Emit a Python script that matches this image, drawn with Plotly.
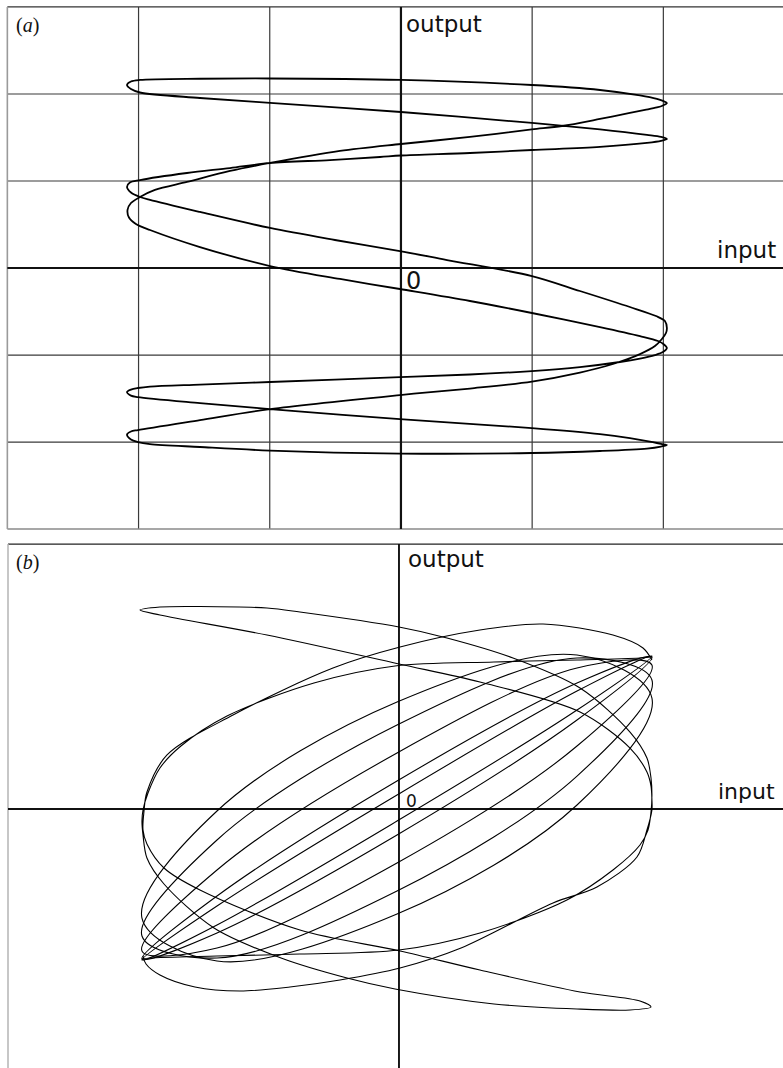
import plotly.graph_objects as go

# ---------------- Panel (a): one closed trace, in screen divisions ----------------
a_input = [
    -2.088, -2.058, -1.989, -1.532, -0.998, 0.000, 0.998, 1.517, 1.822, 1.951, 1.997, 2.027,
    1.997, 1.951, 1.860, 1.745, 1.517, 1.227, 0.998, 0.526, 0.000, -0.465, -0.998, -1.303, -1.631, -1.875, -1.989, -2.058, -2.084,
    -2.073, -2.020, -1.913, -1.532, -0.998, -0.465, -0.008, 0.526, 0.998, 1.517, 1.822, 1.959, 2.005, 2.027,
    1.997, 1.936, 1.822, 1.669, 1.364, 0.998, 0.526, -0.008, -0.998, -1.532, -1.913, -2.005, -2.058, -2.088,
    -2.058, -2.005, -1.532, -0.998, -0.008, 0.998, 1.517, 1.745, 1.898, 1.982, 2.027,
    1.982, 1.875, 1.517, 0.998, -0.008, -0.998, -1.532, -1.913, -2.005, -2.058, -2.088,
    -2.058, -2.005, -1.532, -0.998, -0.008, 0.526, 0.998, 1.364, 1.616, 1.822, 1.936, 1.989, 2.020, 2.027,
    2.012, 1.944, 1.745, 1.364, 0.998, 0.351, -0.008, -0.503, -0.998, -1.532, -1.913, -1.989, -2.058, -2.088,
    -2.066, -1.989, -1.631, -1.303, -0.998, -0.541, -0.160, 0.000, 0.526, 0.998, 1.517, 1.875, 1.982, 2.027,
    1.982, 1.875, 1.517, 0.998, 0.000, -0.998, -1.532, -1.989, -2.058, -2.088,
]
a_output = [
    2.103, 2.143, 2.161, 2.175, 2.178, 2.161, 2.103, 2.046, 1.983, 1.943, 1.920, 1.897,
    1.868, 1.845, 1.816, 1.782, 1.713, 1.632, 1.592, 1.506, 1.425, 1.345, 1.207, 1.115, 0.989, 0.897, 0.816, 0.747, 0.667,
    0.580, 0.506, 0.437, 0.241, 0.023, -0.126, -0.241, -0.379, -0.517, -0.678, -0.782, -0.839, -0.879, -0.920,
    -0.966, -1.000, -1.040, -1.080, -1.138, -1.184, -1.224, -1.253, -1.310, -1.339, -1.362, -1.379, -1.397, -1.425,
    -1.466, -1.483, -1.552, -1.621, -1.736, -1.839, -1.908, -1.954, -1.994, -2.021, -2.034,
    -2.052, -2.075, -2.103, -2.126, -2.132, -2.098, -2.057, -2.023, -2.000, -1.971, -1.914,
    -1.879, -1.862, -1.747, -1.621, -1.460, -1.385, -1.305, -1.201, -1.103, -0.989, -0.897, -0.816, -0.747, -0.690,
    -0.609, -0.552, -0.448, -0.264, -0.092, 0.092, 0.195, 0.322, 0.460, 0.644, 0.782, 0.816, 0.868, 0.931,
    0.983, 1.011, 1.092, 1.149, 1.207, 1.241, 1.276, 1.293, 1.322, 1.356, 1.391, 1.437, 1.460, 1.483,
    1.506, 1.529, 1.592, 1.667, 1.793, 1.897, 1.954, 2.017, 2.057, 2.103,
]

# ---------------- Panel (b) ----------------
# near-locked cycles: input at eight points per cycle, output of each cycle
b_cycle_input = [-1.959, -1.387, -0.015, 1.357, 1.928, 1.357, -0.015, -1.387]
b_cycle_outputs = [
    [-1.736, -1.333, -0.138, 1.138, 1.759, 1.356, 0.161, -1.115],
    [-1.724, -1.425, -0.299, 1.023, 1.747, 1.448, 0.322, -1.000],
    [-1.632, -1.598, -0.621, 0.724, 1.655, 1.621, 0.644, -0.701],
    [-1.460, -1.713, -0.943, 0.379, 1.483, 1.736, 0.966, -0.356],
    [-1.253, -1.747, -1.207, 0.046, 1.276, 1.770, 1.230, -0.023],
]

# phase slip through the lower-right extreme
b_slipA_input = [
    1.928, 1.837, 1.357, 0.724, -0.030, -0.648, -1.311, -1.662, -1.822, -1.913, -1.951, -1.959,
    -1.951, -1.921, -1.791, -1.410, -0.899, -0.396, -0.030, 0.724, 1.357, 1.761, 1.921,
    1.837, 1.380, 0.617, 0.008, -0.755, -1.517, -1.791, -1.921, -1.951,
    -1.944, -1.921, -1.768, -1.265, -0.503, 0.008, 0.617, 1.098, 1.631, 1.860, 1.928,
]
b_slipA_output = [
    1.747, 1.736, 1.713, 1.690, 1.644, 1.448, 1.069, 0.724, 0.471, 0.184, -0.011, -0.138,
    -0.299, -0.563, -0.862, -1.368, -1.713, -1.943, -2.069, -2.241, -2.299, -2.310, -2.276,
    -2.207, -2.103, -1.851, -1.632, -1.391, -0.931, -0.678, -0.402, -0.241,
    -0.034, 0.195, 0.621, 1.080, 1.621, 1.862, 2.057, 2.126, 2.000, 1.851, 1.713,
]

# phase slip through the upper-left extreme
b_slipB_input = [
    -1.959, -1.898, -1.387, -0.755, 0.000, 0.617, 1.280, 1.631, 1.837, 1.898, 1.921, 1.928,
    1.921, 1.890, 1.761, 1.380, 0.869, 0.366, 0.000, -0.755, -1.006, -1.517, -1.822, -1.974,
    -1.822, -1.006, 0.000, 0.617, 1.380, 1.761, 1.890, 1.921,
    1.928, 1.928, 1.890, 1.814, 1.509, 1.174, 0.473, 0.008, -0.450, -0.831, -1.212, -1.555, -1.822, -1.928, -1.951,
]
b_slipB_output = [
    -1.724, -1.713, -1.690, -1.667, -1.621, -1.425, -1.046, -0.701, -0.414, -0.241, -0.034, 0.161,
    0.356, 0.586, 0.885, 1.391, 1.736, 1.966, 2.092, 2.264, 2.310, 2.328, 2.322, 2.287,
    2.230, 2.000, 1.667, 1.460, 1.115, 0.701, 0.425, 0.264,
    0.103, -0.011, -0.241, -0.552, -0.897, -1.080, -1.598, -1.828, -1.966, -2.046, -2.092, -2.046, -1.908, -1.782, -1.690,
]

W, H = 783, 1068
fig = go.Figure()

fig.add_trace(go.Scatter(
    x=a_input, y=a_output, mode="lines", xaxis="x", yaxis="y",
    line=dict(color="black", width=1.8, shape="spline", smoothing=0.9),
    hoverinfo="skip"))

start = 2  # begin each cycle mid-sweep so the closing join falls on a straight stretch
for out in b_cycle_outputs:
    xs = b_cycle_input[start:] + b_cycle_input[:start + 1]
    ys = out[start:] + out[:start + 1]
    fig.add_trace(go.Scatter(
        x=xs, y=ys, mode="lines", xaxis="x2", yaxis="y2",
        line=dict(color="black", width=1.1, shape="spline", smoothing=1.0),
        hoverinfo="skip"))

for xs, ys in [(b_slipA_input, b_slipA_output), (b_slipB_input, b_slipB_output)]:
    fig.add_trace(go.Scatter(
        x=xs, y=ys, mode="lines", xaxis="x2", yaxis="y2",
        line=dict(color="black", width=1.1, shape="spline", smoothing=0.9),
        hoverinfo="skip"))

shapes = []
def seg(x0, y0, x1, y1, ax, color, width):
    shapes.append(dict(type="line", xref=ax[0], yref=ax[1], x0=x0, y0=y0, x1=x1, y1=y1,
                       line=dict(color=color, width=width), layer="below"))

# panel (a) graticule
for g in (-2, -1, 1, 2):
    seg(g, -3, g, 3, ("x", "y"), "#3a3a3a", 1.2)
    seg(-3, g, 3.2, g, ("x", "y"), "#3a3a3a", 1.2)
seg(-3, 3, 3.2, 3, ("x", "y"), "#333333", 1.3)
seg(-3, -3, 3.2, -3, ("x", "y"), "#8a8a8a", 1.6)
seg(-3, -3, -3, 3, ("x", "y"), "#9a9a9a", 1.6)
seg(0, -3, 0, 3, ("x", "y"), "#111111", 2.2)
seg(-3, 0, 3.2, 0, ("x", "y"), "#111111", 2.2)

# panel (b) frame and axes
seg(-2.98, 3.046, 3.2, 3.046, ("x2", "y2"), "#222222", 1.3)
seg(-2.98, 3.046, -2.98, -3.2, ("x2", "y2"), "#b5b5b5", 1.5)
seg(0, 3.046, 0, -3.2, ("x2", "y2"), "#111111", 1.9)
seg(-2.98, 0, 3.2, 0, ("x2", "y2"), "#111111", 2.2)

def label(text, px, py, size, family, color="#111111"):
    return dict(text=text, x=px / W, y=1 - py / H, xref="paper", yref="paper",
                xanchor="left", yanchor="middle", showarrow=False,
                font=dict(family=family, size=size, color=color))

sans = "DejaVu Sans"
serif = "Liberation Serif"
annotations = [
    label("(<i>a</i>)", 14, 25, 20, serif),
    label("output", 404, 24, 23, sans),
    label("input", 715, 250, 23, sans),
    label("0", 404, 281, 24, sans),
    label("(<i>b</i>)", 14, 562, 20, serif),
    label("output", 406, 559, 23, sans),
    label("input", 716, 791, 22, sans),
    label("0", 404, 801, 17, sans),
]

fig.update_layout(
    width=W, height=H, margin=dict(l=0, r=0, t=0, b=0),
    paper_bgcolor="white", plot_bgcolor="white", showlegend=False,
    xaxis=dict(domain=[0, 1], range=[-3.056, 2.912], visible=False, anchor="y"),
    yaxis=dict(domain=[0.4981, 1], range=[-3.08, 3.08], visible=False, anchor="x"),
    xaxis2=dict(domain=[0, 1], range=[-3.041, 2.927], visible=False, anchor="y2"),
    yaxis2=dict(domain=[0, 0.4981], range=[-2.977, 3.138], visible=False, anchor="x2"),
    shapes=shapes, annotations=annotations,
)

fig.write_html("out.html")
